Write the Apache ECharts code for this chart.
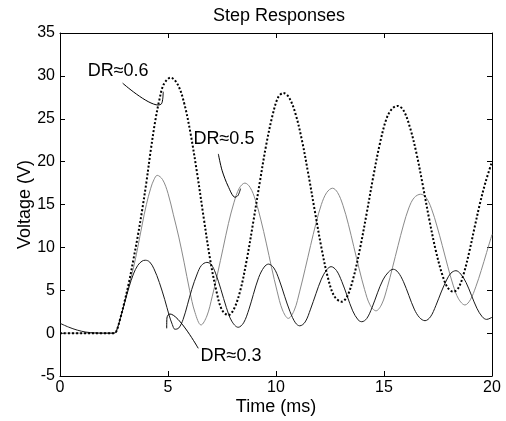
<!DOCTYPE html>
<html>
<head>
<meta charset="utf-8">
<script src="https://cdn.jsdelivr.net/npm/echarts@6/dist/echarts.min.js"></script>
<style>html,body{margin:0;padding:0;background:#fff;}#c{width:506px;height:421px;}</style>
</head>
<body>
<div id="c"></div>
<script>
// ---- Data (time in ms, voltage in V) ----
const titleText = 'Step Responses';
const xLabel = 'Time (ms)';
const yLabel = 'Voltage (V)';
const xTicks = [0, 5, 10, 15, 20];
const yTicks = [-5, 0, 5, 10, 15, 20, 25, 30, 35];

// DR≈0.3 (solid)
const dr03 = [[0,1.15],[0.4,0.7],[0.8,0.35],[1.2,0.12],[1.6,0.03],[2.0,0],[2.5,0],[2.6,0.15],[2.8,1.8],[3.0,3.6],[3.2,5.4],[3.4,6.9],[3.6,7.9],[3.8,8.4],[3.95,8.5],[4.15,8.3],[4.35,7.5],[4.6,5.9],[4.85,3.9],[5.05,2.1],[5.2,1.0],[5.32,0.45],[5.5,0.6],[5.7,1.6],[5.9,3.3],[6.1,5.1],[6.35,6.9],[6.55,7.9],[6.8,8.25],[7.0,8.0],[7.2,7.0],[7.45,5.1],[7.7,3.0],[7.95,1.4],[8.25,0.68],[8.5,1.2],[8.75,2.8],[8.95,4.5],[9.2,6.5],[9.45,7.7],[9.65,8.05],[9.9,7.6],[10.15,6.2],[10.4,4.3],[10.65,2.5],[10.9,1.2],[11.1,0.85],[11.35,1.3],[11.6,2.8],[11.85,4.6],[12.1,6.3],[12.35,7.4],[12.55,7.75],[12.8,7.3],[13.05,6.0],[13.3,4.3],[13.55,2.6],[13.8,1.55],[13.97,1.33],[14.2,1.7],[14.45,3.0],[14.7,4.7],[14.95,6.2],[15.2,7.1],[15.43,7.45],[15.65,7.1],[15.9,6.0],[16.15,4.4],[16.4,2.8],[16.65,1.8],[16.9,1.45],[17.15,1.9],[17.4,3.2],[17.65,4.8],[17.9,6.2],[18.1,7.0],[18.33,7.28],[18.55,6.9],[18.8,5.9],[19.05,4.4],[19.3,2.9],[19.55,1.9],[19.75,1.6],[20,1.85]];

// DR≈0.5 (thin gray)
const dr05 = [[0,0],[1,0],[2,0],[2.5,0],[2.6,0.15],[2.8,1.8],[3.0,3.7],[3.2,5.7],[3.4,7.6],[3.6,10.0],[3.8,12.6],[4.0,15.0],[4.2,16.9],[4.35,17.9],[4.5,18.4],[4.75,17.9],[5.0,16.3],[5.25,13.8],[5.5,11.2],[5.75,8.2],[6.0,5.0],[6.25,2.4],[6.53,0.95],[6.8,2.0],[7.05,4.3],[7.3,7.0],[7.55,9.9],[7.8,12.8],[8.05,15.2],[8.3,16.9],[8.56,17.5],[8.8,17.0],[9.05,15.5],[9.3,13.2],[9.55,10.5],[9.8,7.6],[10.05,4.9],[10.3,2.7],[10.57,1.72],[10.85,2.7],[11.1,4.9],[11.35,7.5],[11.6,10.2],[11.85,12.8],[12.1,15.0],[12.35,16.4],[12.62,16.9],[12.85,16.4],[13.1,14.9],[13.35,12.7],[13.6,10.1],[13.85,7.5],[14.1,5.1],[14.35,3.3],[14.63,2.6],[14.9,3.4],[15.15,5.3],[15.4,7.7],[15.65,10.2],[15.9,12.6],[16.15,14.6],[16.4,15.8],[16.7,16.2],[16.95,15.8],[17.2,14.5],[17.45,12.5],[17.7,10.2],[17.95,7.8],[18.2,5.6],[18.45,4.0],[18.75,3.28],[19.0,3.9],[19.25,5.4],[19.5,7.3],[19.75,9.4],[20,11.5]];

// DR≈0.6 (dotted)
const dr06 = [[0,0],[1,0],[2,0],[2.5,0],[2.6,0.15],[2.8,1.8],[3.0,3.8],[3.2,6.0],[3.4,8.6],[3.6,11.3],[3.8,14.3],[4.0,17.6],[4.2,21.3],[4.4,24.6],[4.6,27.2],[4.8,29.0],[5.12,29.8],[5.45,29.0],[5.75,26.8],[6.05,23.2],[6.35,18.6],[6.65,13.5],[6.95,8.6],[7.25,4.8],[7.5,2.7],[7.79,2.1],[8.05,2.8],[8.35,5.0],[8.65,8.6],[8.95,13.0],[9.25,17.6],[9.55,22.0],[9.85,25.5],[10.1,27.5],[10.34,28.0],[10.6,27.5],[10.9,25.6],[11.2,22.5],[11.5,18.5],[11.8,14.2],[12.1,10.0],[12.4,6.5],[12.7,4.3],[13.04,3.67],[13.3,4.3],[13.6,6.6],[13.9,10.0],[14.2,14.0],[14.5,18.2],[14.8,22.0],[15.1,24.9],[15.35,26.1],[15.63,26.5],[15.9,26.0],[16.2,24.0],[16.5,21.0],[16.8,17.2],[17.1,13.2],[17.4,9.6],[17.7,6.8],[17.95,5.3],[18.21,4.83],[18.45,5.3],[18.7,7.0],[18.95,9.5],[19.2,12.4],[19.45,15.2],[19.7,17.6],[20,20.0]];

// Annotations (data coordinates)
const annotLabels = ['DR≈0.6', 'DR≈0.5', 'DR≈0.3'];
const annotTextPos = [[2.69, 30.55], [7.59, 22.6], [7.92, -2.65]];
const arrow06 = [[2.9,29.15],[4.55,26.6],[4.70,26.75],[4.76,27.4],[4.78,28.15]];
const arrow05 = [[7.33,20.9],[7.5,19.0],[7.78,17.15],[8.10,15.85],[8.24,16.05],[8.36,16.85]];
const arrow03 = [[6.40,-1.77],[5.09,2.23],[5.0,2.1],[4.95,1.75],[4.94,0.56]];

const FONT = 'Liberation Sans, Arial, Helvetica, sans-serif';

function axisCommon(extra) {
  return Object.assign({
    axisLine: { show: true, onZero: false, lineStyle: { color: '#000', width: 1 } },
    axisTick: { show: true, inside: true, length: 5, lineStyle: { color: '#000' } },
    splitLine: { show: false }
  }, extra);
}

const chart = echarts.init(document.getElementById('c'), null, { renderer: 'canvas' });

const annotLineStyle = { color: '#000', width: 1 };
function arrowSeries(d) {
  return { type: 'line', data: d, showSymbol: false, symbol: 'none', smooth: 0.3, silent: true,
           lineStyle: annotLineStyle, z: 5, animation: false, xAxisIndex: 0, yAxisIndex: 0 };
}

chart.setOption({
  animation: false,
  backgroundColor: '#fff',
  title: {
    text: titleText, left: 274, top: 2, textAlign: 'center',
    textStyle: { fontFamily: FONT, fontSize: 18, fontWeight: 'normal', color: '#000' }
  },
  grid: { left: 60, right: 14, top: 33, bottom: 45, containLabel: false },
  xAxis: [
    axisCommon({
      type: 'value', min: xTicks[0], max: xTicks[xTicks.length - 1], interval: 5, position: 'bottom',
      name: xLabel, nameLocation: 'middle', nameGap: 22, nameMoveOverlap: false,
      nameTextStyle: { fontFamily: FONT, fontSize: 18, color: '#000' },
      axisLabel: { show: true, margin: 4, color: '#000', fontFamily: FONT, fontSize: 16 }
    }),
    axisCommon({
      type: 'value', min: xTicks[0], max: xTicks[xTicks.length - 1], interval: 5, position: 'top',
      axisLabel: { show: false }
    })
  ],
  yAxis: [
    axisCommon({
      type: 'value', min: yTicks[0], max: yTicks[yTicks.length - 1], interval: 5, position: 'left',
      name: yLabel, nameLocation: 'middle', nameGap: 26, nameMoveOverlap: false,
      nameTextStyle: { fontFamily: FONT, fontSize: 18, color: '#000' },
      axisLabel: { show: true, margin: 5, color: '#000', fontFamily: FONT, fontSize: 16 }
    }),
    axisCommon({
      type: 'value', min: yTicks[0], max: yTicks[yTicks.length - 1], interval: 5, position: 'right',
      axisLabel: { show: false }
    })
  ],
  series: [
    { name: 'DR≈0.5', type: 'line', data: dr05, showSymbol: false, symbol: 'none', smooth: 0.35,
      lineStyle: { color: '#8a8a8a', width: 1 }, z: 2 },
    { name: 'DR≈0.3', type: 'line', data: dr03, showSymbol: false, symbol: 'none', smooth: 0.35,
      lineStyle: { color: '#1a1a1a', width: 1 }, z: 3 },
    { name: 'DR≈0.6', type: 'line', data: dr06, showSymbol: false, symbol: 'none', smooth: 0.35,
      lineStyle: { color: '#000', width: 2, type: [2, 2], cap: 'butt' }, z: 4 },
    arrowSeries(arrow06),
    arrowSeries(arrow05),
    arrowSeries(arrow03),
    {
      type: 'scatter', silent: true, symbolSize: 0, z: 6, itemStyle: { color: '#000', opacity: 1 },
      data: annotLabels.map((s, i) => ({ name: s, value: annotTextPos[i] })),
      label: { show: true, position: 'inside', formatter: p => p.name,
               fontFamily: FONT, fontSize: 18, color: '#000', textBorderWidth: 0 }
    }
  ]
});
</script>
</body>
</html>
